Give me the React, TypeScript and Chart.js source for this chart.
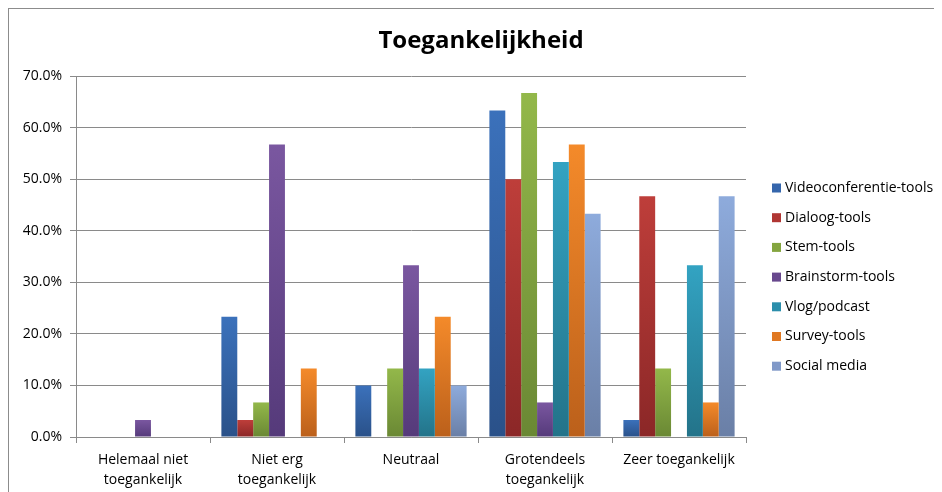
import React, { useEffect, useRef } from "react";
import { Chart, registerables } from "chart.js";

Chart.register(...registerables);

const TITLE = "Toegankelijkheid";
const categories: (string | string[])[] = [
  ["Helemaal niet", "toegankelijk"],
  ["Niet erg", "toegankelijk"],
  "Neutraal",
  ["Grotendeels", "toegankelijk"],
  "Zeer toegankelijk",
];
const seriesNames = [
  "Videoconferentie-tools",
  "Dialoog-tools",
  "Stem-tools",
  "Brainstorm-tools",
  "Vlog/podcast",
  "Survey-tools",
  "Social media",
];
const videoconferentie = [0, 23.3, 10.0, 63.3, 3.3];
const dialoog = [0, 3.3, 0, 50.0, 46.7];
const stem = [0, 6.7, 13.3, 66.7, 13.3];
const brainstorm = [3.3, 56.7, 33.3, 6.7, 0];
const vlog = [0, 0, 13.3, 53.3, 33.3];
const survey = [0, 13.3, 23.3, 56.7, 6.7];
const social = [0, 0, 10.0, 43.3, 46.7];
const seriesValues = [videoconferentie, dialoog, stem, brainstorm, vlog, survey, social];
const yTicks = [0, 10, 20, 30, 40, 50, 60, 70];

const topColors = ["#3b71bb", "#be3e3a", "#93b84a", "#7a57a0", "#33a3c2", "#f48a2a", "#8eabdc"];
const bottomColors = ["#2a5189", "#8b2727", "#6a8834", "#553a7a", "#237389", "#bb601b", "#6a7fa6"];
const legendColors = ["#3566ac", "#b03633", "#84a53f", "#68488d", "#2b8eab", "#e07822", "#8099c8"];

const FONT = "'Open Sans', 'Liberation Sans', sans-serif";

export default function App() {
  const ref = useRef<HTMLCanvasElement>(null);
  useEffect(() => {
    const canvas = ref.current!;
    const gradientFor = (i: number) => (ctx: any) => {
      const chart = ctx.chart;
      const ys = chart.scales?.y;
      if (!ys || ctx.type !== "data") return topColors[i];
      const v = ctx.raw as number;
      const top = ys.getPixelForValue(v);
      const base = ys.getPixelForValue(0);
      if (!isFinite(top) || Math.abs(base - top) < 1) return topColors[i];
      const g = chart.ctx.createLinearGradient(0, top, 0, base);
      g.addColorStop(0, topColors[i]);
      g.addColorStop(1, bottomColors[i]);
      return g;
    };

    const legendTitlePlugin = {
      id: "legendTitle",
      afterDraw(chart: any) {
        const c = chart.ctx;
        c.save();
        c.fillStyle = "#000";
        c.font = `bold 24px ${FONT}`;
        c.textAlign = "center";
        c.textBaseline = "middle";
        c.fillText(TITLE, 472, 32);
        c.font = `14px ${FONT}`;
        c.textAlign = "left";
        seriesNames.forEach((name, i) => {
          const y = 179 + i * 29.7;
          c.fillStyle = legendColors[i];
          c.fillRect(763, y - 4.5, 9, 9);
          c.fillStyle = "#000";
          c.fillText(name, 776, y);
        });
        c.restore();
      },
    };

    const chart = new Chart(canvas, {
      type: "bar",
      data: {
        labels: categories,
        datasets: seriesNames.map((name, i) => ({
          label: name,
          data: seriesValues[i],
          backgroundColor: gradientFor(i),
          borderWidth: 0,
          barPercentage: 1,
          categoryPercentage: 0.83,
        })),
      },
      options: {
        responsive: false,
        animation: false,
        layout: { padding: { top: 67, right: 196, left: 0, bottom: 0 } },
        plugins: {
          legend: { display: false },
          title: { display: false },
          tooltip: { enabled: false },
        },
        scales: {
          x: {
            offset: true,
            grid: {
              offset: true,
              drawOnChartArea: false,
              drawTicks: true,
              tickLength: 6,
              color: "#8a8a8a",
            },
            border: { color: "#8a8a8a", width: 1 },
            ticks: {
              color: "#000",
              font: { family: FONT, size: 14, lineHeight: 1.45 },
              padding: 7,
              maxRotation: 0,
              autoSkip: false,
            },
            afterFit: (s: any) => {
              s.height = 55;
            },
          },
          y: {
            min: 0,
            max: 70,
            grid: {
              color: "#8a8a8a",
              tickLength: 6,
              drawTicks: true,
            },
            border: { color: "#8a8a8a", width: 1 },
            afterBuildTicks: (s: any) => {
              s.ticks = yTicks.map((v) => ({ value: v }));
            },
            ticks: {
              color: "#000",
              font: { family: FONT, size: 14 },
              padding: 8,
              callback: (v: any) => Number(v).toFixed(1) + "%",
            },
            afterFit: (s: any) => {
              s.width = 67;
            },
          },
        },
      },
      plugins: [legendTitlePlugin],
    });
    return () => chart.destroy();
  }, []);

  return (
    <div
      style={{
        width: 940,
        height: 490,
        border: "1px solid #8c8c8c",
        background: "#fff",
        overflow: "hidden",
      }}
    >
      <canvas ref={ref} width={933} height={483} style={{ display: "block" }} />
    </div>
  );
}
